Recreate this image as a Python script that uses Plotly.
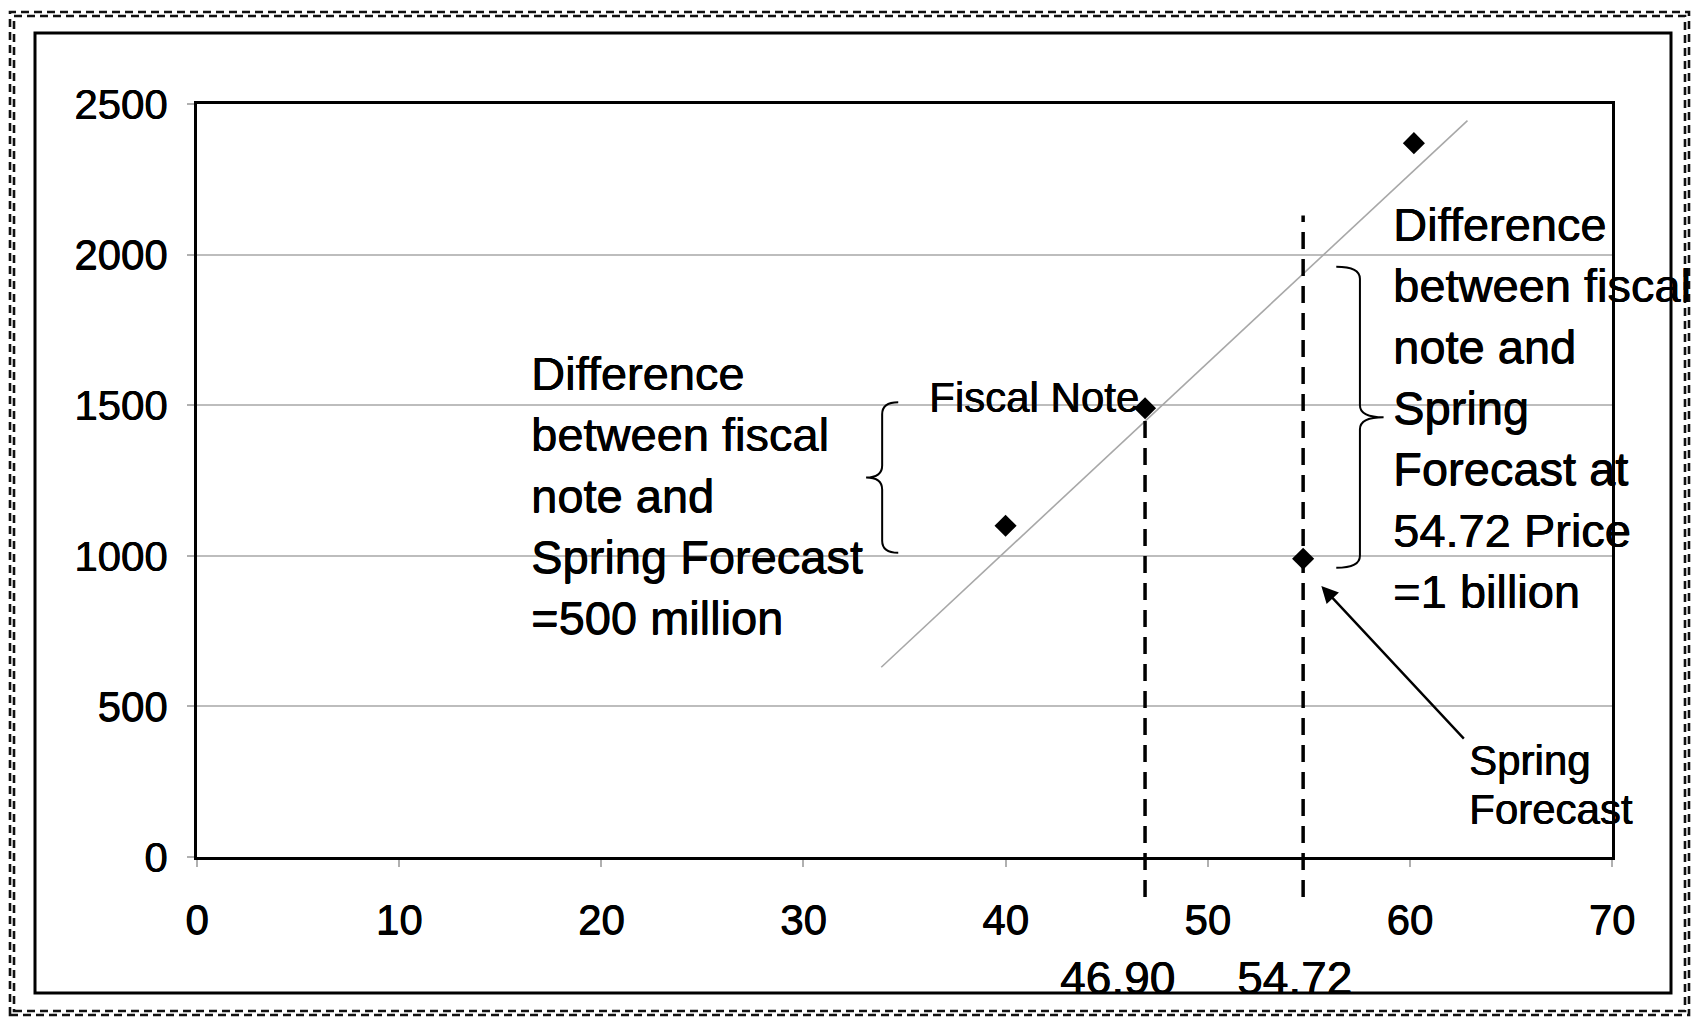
import plotly.graph_objects as go

# ---- data -------------------------------------------------------------
price = [40.0, 46.90, 54.72, 60.2]          # oil price ($/bbl)
revenue = [1100, 1490, 990, 2370]           # revenue ($ millions)

trend_price = [33.85, 62.85]
trend_revenue = [630, 2445]

guide_price = [46.90, 54.72]                # dashed reference prices
guide_top = [1490, 2130]
guide_bottom = -133
guide_labels = ["46.90", "54.72"]

x_ticks = [0, 10, 20, 30, 40, 50, 60, 70]
y_ticks = [0, 500, 1000, 1500, 2000, 2500]

# brace spans (low, high revenue) for the two differences
left_brace_span = [1010, 1510]
right_brace_span = [960, 1960]

left_note = ["Difference", "between fiscal", "note and", "Spring Forecast", "=500 million"]
right_note = ["Difference", "between fiscal", "note and", "Spring", "Forecast at",
              "54.72 Price", "=1 billion"]

# ---- layout constants -----------------------------------------------
W, H = 1695, 1019
ML, MR, MT, MB = 197, 83, 104, 162
X_RANGE = [0, 70]
Y_RANGE = [0, 2500]
FONT = "Liberation Sans, Arial, sans-serif"
INK = "0.6px 0 0 #000, 0 0.4px 0 #000"     # slightly heavier glyph strokes


def ydom(v):
    return (v - Y_RANGE[0]) / (Y_RANGE[1] - Y_RANGE[0])


def px_to_paper(px, py):
    return (px - ML) / (W - ML - MR), (H - MB - py) / (H - MT - MB)


def brace_path(x_end, x_tip, y_lo, y_hi, r):
    xs = (x_end + x_tip) / 2
    ym = (y_lo + y_hi) / 2
    return (f"M {x_end},{y_hi} Q {xs},{y_hi} {xs},{y_hi - r} "
            f"L {xs},{ym + r} Q {xs},{ym} {x_tip},{ym} "
            f"Q {xs},{ym} {xs},{ym - r} L {xs},{y_lo + r} "
            f"Q {xs},{y_lo} {x_end},{y_lo}")


def tfont(size):
    return dict(size=size, color="black", family=FONT, shadow=INK)


fig = go.Figure()

# fitted trend line
fig.add_trace(go.Scatter(
    x=trend_price, y=trend_revenue, mode="lines",
    line=dict(color="#a8a8a8", width=1.6),
    hoverinfo="skip", showlegend=False))

# observations
fig.add_trace(go.Scatter(
    x=price, y=revenue, mode="markers",
    marker=dict(symbol="diamond", size=17, color="black"),
    showlegend=False))

shapes = []

# dashed guides at the two prices
for gx, gt in zip(guide_price, guide_top):
    shapes.append(dict(
        type="line", xref="x", yref="y domain",
        x0=gx, x1=gx, y0=ydom(guide_bottom), y1=ydom(gt),
        line=dict(color="black", width=3.5, dash="17px,10px"), layer="above"))

# braces
shapes.append(dict(type="path", xref="x", yref="y",
                   path=brace_path(34.69, 33.1, left_brace_span[0], left_brace_span[1], 40),
                   line=dict(color="black", width=2)))
shapes.append(dict(type="path", xref="x", yref="y",
                   path=brace_path(56.36, 58.7, right_brace_span[0], right_brace_span[1], 40),
                   line=dict(color="black", width=2)))

# chart-area frame
fx0, fy0 = px_to_paper(35, 993)
fx1, fy1 = px_to_paper(1671, 33)
shapes.append(dict(type="rect", xref="paper", yref="paper",
                   x0=fx0, y0=fy0, x1=fx1, y1=fy1,
                   line=dict(color="black", width=3)))

# double dashed outer border
for inset in (0, 4):
    bx0, by0 = px_to_paper(10 + inset, 1015 - inset)
    bx1, by1 = px_to_paper(1689 - inset, 12 + inset)
    shapes.append(dict(type="rect", xref="paper", yref="paper",
                       x0=bx0, y0=by0, x1=bx1, y1=by1,
                       line=dict(color="#111111", width=2.6, dash="8px,5px")))

annotations = []

annotations.append(dict(
    x=16.43, y=1200, xref="x", yref="y", xanchor="left", yanchor="middle",
    text="<br>".join(left_note), align="left", showarrow=False, font=tfont(47)))

annotations.append(dict(
    x=59.08, y=1490, xref="x", yref="y", xanchor="left", yanchor="middle",
    text="<br>".join(right_note), align="left", showarrow=False, font=tfont(47)))

annotations.append(dict(
    x=46.7, y=1525, xref="x", yref="y", xanchor="right", yanchor="middle",
    text="Fiscal Note", showarrow=False, font=tfont(42)))

for line_text, ly in zip(["Spring", "Forecast"], [322, 159]):
    annotations.append(dict(
        x=62.84, y=ly, xref="x", yref="y", xanchor="left", yanchor="middle",
        text=line_text, showarrow=False, font=tfont(42)))

# arrow pointing at the Spring Forecast observation
annotations.append(dict(
    x=55.62, y=900, ax=62.74, ay=388, xref="x", yref="y", axref="x", ayref="y",
    text="", showarrow=True, arrowhead=2, arrowsize=1.4, arrowwidth=2.4,
    arrowcolor="black"))

# price labels under the guides
for lx, lab in zip([45.52, 54.28], guide_labels):
    annotations.append(dict(
        x=lx, y=ydom(-402), xref="x", yref="y domain",
        xanchor="center", yanchor="middle",
        text=lab, showarrow=False, font=tfont(46)))

fig.update_layout(
    width=W, height=H,
    margin=dict(l=ML, r=MR, t=MT, b=MB, pad=0),
    paper_bgcolor="white", plot_bgcolor="white",
    font=dict(family=FONT, color="black"),
    shapes=shapes, annotations=annotations,
    showlegend=False,
)

fig.update_xaxes(
    range=X_RANGE, tickvals=x_ticks, ticktext=[str(v) for v in x_ticks],
    showgrid=False, zeroline=False,
    showline=True, linecolor="black", linewidth=3, mirror=True,
    ticks="outside", ticklen=7, tickcolor="#b0b0b0", tickwidth=1.5,
    ticklabelstandoff=17, tickfont=tfont(42))

fig.update_yaxes(
    range=Y_RANGE, tickvals=y_ticks, ticktext=[str(v) for v in y_ticks],
    showgrid=True, gridcolor="#bdbdbd", gridwidth=1.5, zeroline=False,
    showline=True, linecolor="black", linewidth=3, mirror=True,
    ticks="outside", ticklen=7, tickcolor="#b0b0b0", tickwidth=1.5,
    ticklabelstandoff=11, tickfont=tfont(42))

fig.write_html("out.html")
